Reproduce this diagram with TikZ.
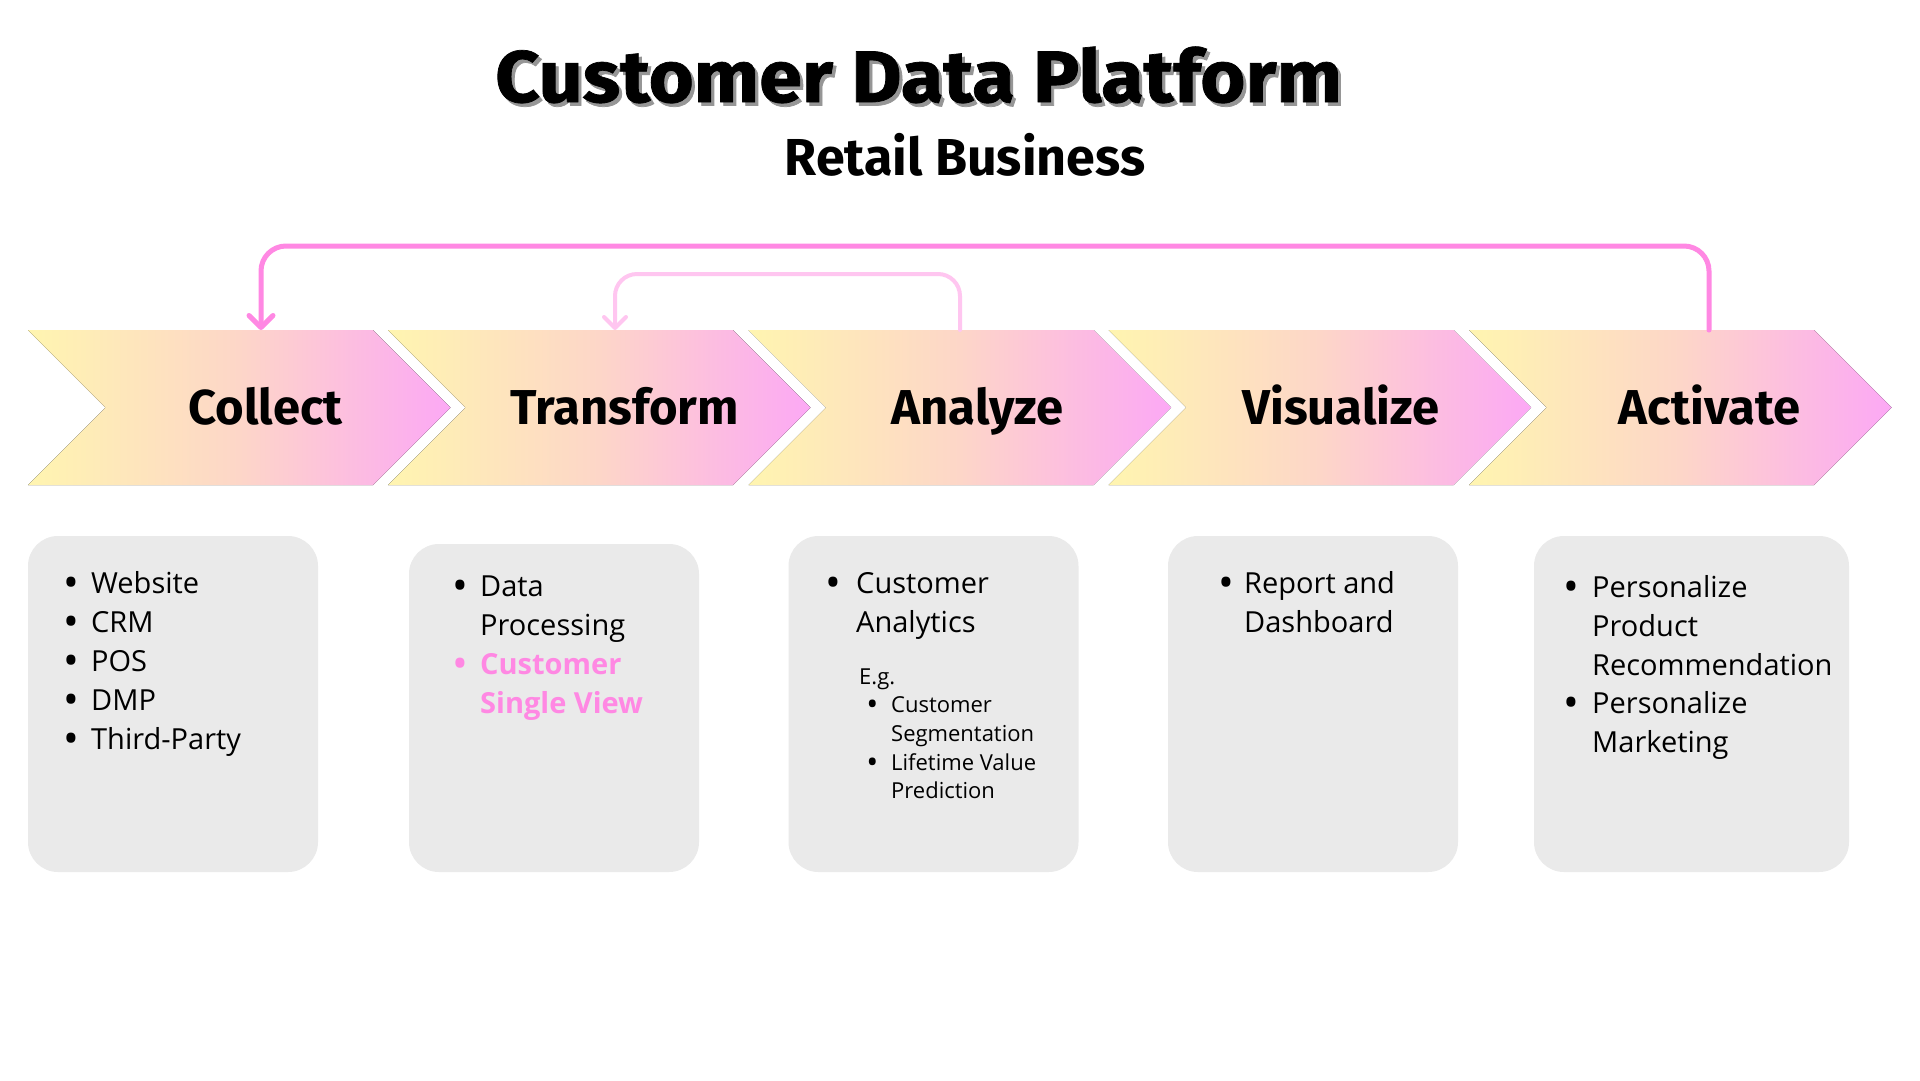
\documentclass[tikz,border=0pt]{standalone}
\usepackage{fontspec}
\usepackage{graphicx}
\setmainfont{Open Sans}
\newfontfamily\fira{Fira Sans}[BoldFeatures={FakeBold=1}]
\newfontfamily\firaplain{Fira Sans}
\usetikzlibrary{arrows.meta}
\definecolor{chevL}{RGB}{255,245,176}
\definecolor{chevM}{RGB}{253,214,200}
\definecolor{chevR}{RGB}{252,168,245}
\definecolor{pinkA}{RGB}{255,136,227}
\definecolor{pinkB}{RGB}{255,198,240}
\definecolor{boxgray}{RGB}{234,234,234}
\definecolor{shadowgray}{RGB}{150,150,150}
\newcommand\chevronpath[1]{\fill[chev] (#1,330) -- ++(345,0) -- ++(77.5,77.5) -- ++(-77.5,77.5) -- ++(-345,0) -- ++(77.5,-77.5) -- cycle;}
\newcommand\titletext{Customer Data Platform}
\tikzset{
 chev/.style={left color=chevL, right color=chevR, middle color=chevM},
 lab/.style={anchor=base, inner sep=0pt, font=\firaplain\bfseries\fontsize{49}{49}\selectfont},
 card/.style={fill=boxgray, draw=none, rounded corners=30pt, minimum width=290pt, minimum height=336pt, inner sep=0pt},
 bt/.style={anchor=base west, inner sep=0pt, font=\fontsize{29}{29}\selectfont},
 bl/.style={anchor=base, inner sep=0pt, yshift=-4pt, font=\fontsize{42}{42}\selectfont},
 st/.style={anchor=base west, inner sep=0pt, font=\fontsize{22}{22}\selectfont},
 sl/.style={anchor=base, inner sep=0pt, yshift=-3pt, font=\fontsize{32}{32}\selectfont},
 hl/.style={text=pinkA},
 hlt/.style={text=pinkA, font=\bfseries\fontsize{29}{29}\selectfont},
 loopbig/.style={draw=pinkA, line width=5pt, rounded corners=25pt, line cap=round,
   -{Straight Barb[round,length=12pt,width=24pt]}},
 loopsmall/.style={draw=pinkB, line width=4pt, rounded corners=22pt, line cap=round,
   -{Straight Barb[round,length=11pt,width=22pt]}},
 ttl/.style={anchor=base, inner sep=0pt, font=\fira\bfseries\fontsize{73}{73}\selectfont}
}
\begin{document}
\begin{tikzpicture}[x=1pt,y=-1pt]
\fill[white] (0,0) rectangle (1920,1080);
\useasboundingbox (0,0) rectangle (1920,1080);

% title with drop shadow
\node[ttl] (title) at (918.5,102) {\scalebox{1.06}[1]{\rlap{\kern3pt\raisebox{-3.5pt}{\color{shadowgray}\titletext}}\titletext}};
\node[anchor=base, inner sep=0pt, font=\firaplain\bfseries\fontsize{52}{52}\selectfont] (subtitle) at (965,175) {Retail Business};

% chevrons
\chevronpath{28}
\chevronpath{388}
\chevronpath{748.5}
\chevronpath{1108.5}
\chevronpath{1469}

\node[lab] (collect) at (265.5,424) {Collect};
\node[lab] (transform) at (624.5,424) {Transform};
\node[lab] (analyze) at (977.5,424) {Analyze};
\node[lab] (visualize) at (1341,424) {Visualize};
\node[lab] (activate) at (1709.5,424) {Activate};

\coordinate (colTop) at (261,330);
\coordinate (traTop) at (615,330);
\coordinate (anaTop) at (960,330);
\coordinate (actTop) at (1709,330);

\draw[loopbig] (actTop) -- ++(0,-84) -| (colTop);
\draw[loopsmall] (anaTop) -- ++(0,-56) -| (traTop);

% cards
\node[card] (card1) at (173,704) {};
\node[card, minimum height=328pt] (card2) at (554,708) {};
\node[card] (card3) at (933.5,704) {};
\node[card] (card4) at (1313,704) {};
\node[card, minimum width=315pt] (card5) at (1691.5,704) {};

% card 1
\node[bl] (c1b1) at (71,593) {•};
\node[bt] (c1t1) at (91,593) {Website};
\node[bl] (c1b2) at (71,632) {•};
\node[bt] (c1t2) at (91,632) {CRM};
\node[bl] (c1b3) at (71,671) {•};
\node[bt] (c1t3) at (91,671) {POS};
\node[bl] (c1b4) at (71,710) {•};
\node[bt] (c1t4) at (91,710) {DMP};
\node[bl] (c1b5) at (71,749) {•};
\node[bt] (c1t5) at (91,749) {Third-Party};

% card 2
\node[bl] (c2b1) at (460,596) {•};
\node[bt] (c2t1) at (480,596) {Data};
\node[bt] (c2t2) at (480,635) {Processing};
\node[bl, hl] (c2b3) at (460,674) {•};
\node[bt, hlt] (c2t3) at (480,674) {Customer};
\node[bt, hlt] (c2t4) at (480,713) {Single View};

% card 3
\node[bl] (c3b1) at (833.5,593) {•};
\node[bt] (c3t1) at (856,593) {Customer};
\node[bt] (c3t2) at (856,632) {Analytics};
\node[st] (c3eg) at (859,684) {E.g.};
\node[sl] (c3s1) at (872.5,712) {•};
\node[st] (c3u1) at (891,712) {Customer};
\node[st] (c3u2) at (891,741) {Segmentation};
\node[sl] (c3s2) at (872.5,770) {•};
\node[st] (c3u3) at (891,770) {Lifetime Value};
\node[st] (c3u4) at (891,798) {Prediction};

% card 4
\node[bl] (c4b1) at (1226,593) {•};
\node[bt] (c4t1) at (1244,593) {Report and};
\node[bt] (c4t2) at (1244,632) {Dashboard};

% card 5
\node[bl] (c5b1) at (1571,597) {•};
\node[bt] (c5t1) at (1592,597) {Personalize};
\node[bt] (c5t2) at (1592,636) {Product};
\node[bt] (c5t3) at (1592,675) {Recommendation};
\node[bl] (c5b2) at (1571,713) {•};
\node[bt] (c5t4) at (1592,713) {Personalize};
\node[bt] (c5t5) at (1592,752) {Marketing};
\end{tikzpicture}
\end{document}
